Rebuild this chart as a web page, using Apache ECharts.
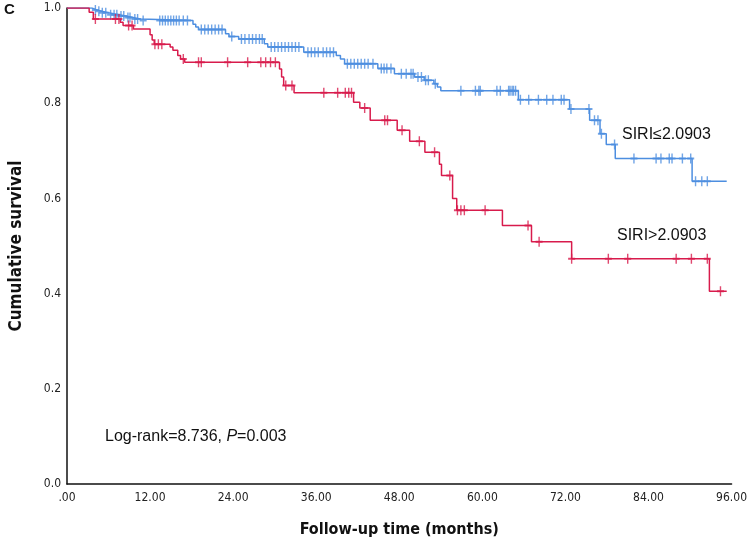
<!DOCTYPE html>
<html><head><meta charset="utf-8">
<script src="https://cdn.jsdelivr.net/npm/echarts@6/dist/echarts.min.js"></script>
<style>html,body{margin:0;padding:0;background:#fff}#c{width:750px;height:547px}</style>
</head><body><div id="c"></div>
<script>
// Step curves: [time (months), cumulative survival]
const lowTimes = [0, 3.6, 4.3, 5.0, 6.0, 7.5, 8.5, 9.5, 10.6, 18.2, 18.6, 19.0, 22.9, 23.4, 24.8, 28.5, 29.0, 34.2, 38.9, 39.5, 40.1, 44.9, 47.3, 50.2, 51.6, 53.0, 53.5, 54.0, 65.2, 72.6, 75.5, 77.0, 77.9, 79.2, 90.3, 95.3];
const lowSurv  = [1.0, 0.996, 0.993, 0.990, 0.986, 0.983, 0.980, 0.977, 0.974, 0.966, 0.960, 0.955, 0.946, 0.940, 0.935, 0.925, 0.918, 0.907, 0.900, 0.893, 0.883, 0.873, 0.862, 0.855, 0.848, 0.841, 0.834, 0.826, 0.807, 0.788, 0.764, 0.736, 0.713, 0.684, 0.636, 0.636];
const lowCensor = [4.1, 4.6, 5.1, 5.6, 6.3, 6.8, 7.2, 7.8, 8.2, 8.8, 9.1, 9.8, 10.2, 11.0, 13.4, 13.8, 14.2, 14.6, 15.0, 15.4, 15.8, 16.2, 16.8, 17.4, 19.4, 19.9, 20.4, 20.9, 21.4, 21.9, 22.4, 23.8, 25.2, 25.7, 26.3, 26.8, 27.3, 27.8, 28.2, 29.5, 30.0, 30.5, 31.0, 31.5, 32.0, 32.5, 33.0, 33.5, 34.8, 35.3, 35.8, 36.3, 37.0, 37.5, 38.0, 38.5, 40.5, 41.0, 41.5, 42.0, 42.5, 43.0, 43.5, 44.2, 45.4, 45.8, 46.2, 46.8, 48.3, 49.0, 49.7, 50.0, 50.7, 51.2, 51.8, 52.2, 53.2, 56.9, 59.0, 59.5, 59.7, 62.1, 62.6, 63.8, 64.0, 64.3, 64.5, 64.8, 65.5, 66.7, 68.1, 69.3, 70.2, 71.4, 71.8, 72.8, 75.4, 76.2, 76.7, 77.2, 79.1, 81.9, 85.1, 85.8, 87.0, 87.4, 88.9, 90.1, 90.8, 91.7, 92.5];

const highTimes = [0, 3.2, 3.8, 7.7, 8.1, 9.6, 12.0, 12.3, 12.6, 14.9, 15.3, 16.0, 16.4, 17.0, 30.7, 31.0, 31.3, 32.8, 41.4, 42.3, 43.8, 47.7, 49.5, 51.7, 53.8, 54.1, 55.7, 56.3, 62.9, 67.1, 72.9, 92.8, 95.3];
const highSurv  = [1.0, 0.991, 0.977, 0.970, 0.963, 0.956, 0.944, 0.933, 0.924, 0.918, 0.911, 0.900, 0.893, 0.886, 0.872, 0.855, 0.837, 0.822, 0.802, 0.790, 0.764, 0.743, 0.720, 0.697, 0.672, 0.648, 0.600, 0.575, 0.543, 0.509, 0.473, 0.405, 0.405];
const highCensor = [4.1, 7.0, 7.5, 8.9, 9.4, 12.7, 13.2, 13.7, 16.8, 19.0, 19.4, 23.2, 26.1, 28.0, 28.7, 29.4, 30.1, 31.6, 32.5, 37.1, 39.1, 40.2, 40.7, 41.1, 43.0, 45.9, 46.3, 48.4, 50.9, 53.1, 55.3, 56.4, 56.9, 57.4, 60.4, 66.6, 68.2, 72.9, 78.2, 81.0, 88.0, 90.2, 92.5, 94.4];

const xTicks = [0, 12, 24, 36, 48, 60, 72, 84, 96];
const lowLabel = 'SIRI≤2.0903';
const highLabel = 'SIRI>2.0903';
const BLUE = '#4d8ee0', RED = '#d81b4c';

function pairs(t, s) { return t.map((v, i) => [v, s[i]]); }
function survAt(t, times, surv) {
  let v = surv[0];
  for (let i = 0; i < times.length; i++) { if (times[i] <= t) v = surv[i]; }
  return v;
}
function censorPts(c, times, surv) { return c.map(t => [t, survAt(t, times, surv)]); }

const plus = 'path://M4,0H6V4H10V6H6V10H4V6H0V4H4Z';
const chart = echarts.init(document.getElementById('c'), null, {renderer: 'canvas'});
chart.setOption({
  animation: false,
  backgroundColor: '#fff',
  grid: {left: 63, right: 17, top: 8, bottom: 63},
  xAxis: {
    type: 'value', min: 0, max: 96, interval: 12,
    axisLine: {lineStyle: {color: '#111', width: 1.5}},
    axisTick: {show: false}, splitLine: {show: false},
    axisLabel: {color: '#222', fontFamily: 'DejaVu Sans Condensed', fontSize: 12, margin: 8,
      formatter: v => v === 0 ? '.00' : v.toFixed(2)},
    name: 'Follow-up time (months)', nameLocation: 'middle', nameGap: 38,
    nameTextStyle: {fontFamily: 'DejaVu Sans Condensed', fontWeight: 'bold', fontSize: 16, color: '#111'}
  },
  yAxis: {
    type: 'value', min: 0, max: 1, interval: 0.2,
    axisLine: {show: true, lineStyle: {color: '#111', width: 1.5}},
    axisTick: {show: false}, splitLine: {show: false},
    axisLabel: {color: '#222', fontFamily: 'DejaVu Sans Condensed', fontSize: 12, margin: 6,
      formatter: v => v.toFixed(1)},
    name: 'Cumulative survival', nameLocation: 'middle', nameGap: 42,
    nameTextStyle: {fontFamily: 'DejaVu Sans Condensed', fontWeight: 'bold', fontSize: 17, color: '#111'}
  },
  series: [
    {type: 'line', step: 'end', data: pairs(lowTimes, lowSurv), showSymbol: false,
     lineStyle: {color: BLUE, width: 1.5}, z: 3},
    {type: 'line', step: 'end', data: pairs(highTimes, highSurv), showSymbol: false,
     lineStyle: {color: RED, width: 1.5}, z: 4},
    {type: 'scatter', data: censorPts(lowCensor, lowTimes, lowSurv), symbol: plus, symbolSize: [7, 10],
     itemStyle: {color: BLUE}, z: 3},
    {type: 'scatter', data: censorPts(highCensor, highTimes, highSurv), symbol: plus, symbolSize: [7, 10],
     itemStyle: {color: RED}, z: 4}
  ],
  graphic: [
    {type: 'text', left: 4, top: 2, style: {text: 'C', font: 'bold 15px "Liberation Sans", Arial', fill: '#111'}},
    {type: 'text', left: 622, top: 127, style: {text: lowLabel, font: '16px "Liberation Sans", Arial', fill: '#111'}},
    {type: 'text', left: 617, top: 228, style: {text: highLabel, font: '16px "Liberation Sans", Arial', fill: '#111'}},
    {type: 'text', left: 105, top: 429, style: {
      rich: {n: {font: '16px "Liberation Sans", Arial', fill: '#111'}, i: {font: 'italic 16px "Liberation Sans", Arial', fill: '#111'}},
      text: '{n|Log-rank=8.736, }{i|P}{n|=0.003}'}}
  ]
});
</script></body></html>
